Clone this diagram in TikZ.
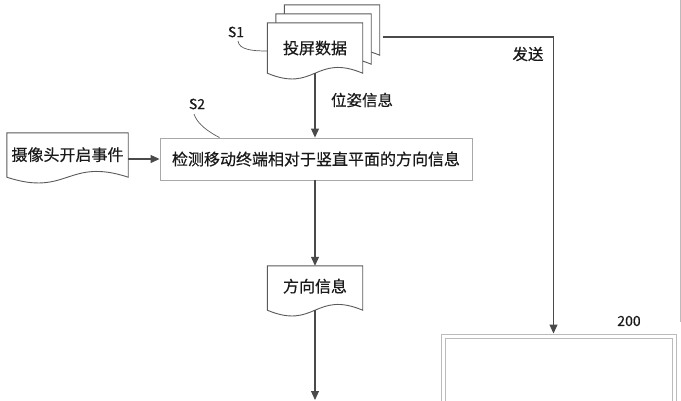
\documentclass[tikz,border=0pt]{standalone}
\usepackage{fontspec}
\setmainfont{Noto Sans CJK SC}[FakeBold=0.5]
\usetikzlibrary{arrows.meta,calc}
\pgfdeclarelayer{bg}
\pgfsetlayers{bg,main}
\definecolor{arr}{HTML}{4A4A4A}
\definecolor{docc}{HTML}{5A5A5A}
\definecolor{boxc}{HTML}{A8A8A8}
\definecolor{outc}{HTML}{BBBBBB}
\definecolor{txt}{HTML}{1A1A1A}
\newcommand\docwave[2]{%
  \filldraw[docline] (#1.south west) -- (#1.north west) -- (#1.north east) -- (#1.south east)
    .. controls ($(#1.south)+(0,-#2)$) and ($(#1.south)+(0,#2)$) .. (#1.south west) -- cycle;}
\begin{document}
\begin{tikzpicture}[x=1pt,y=-1pt,
  every node/.style={text=txt},
  docline/.style={draw=docc,fill=white,line width=0.9pt},
  docnode/.style={inner sep=0pt,font=\fontsize{16}{18}\selectfont},
  procbox/.style={draw=boxc,line width=0.9pt,inner sep=0pt,font=\fontsize{16}{18}\selectfont},
  outbox/.style={draw=outc,line width=1pt,inner sep=0pt},
  flow/.style={draw=arr,line width=1.1pt,-{Triangle[length=9pt,width=8pt]}},
  lbl/.style={font=\fontsize{15.5}{18}\selectfont,inner sep=0pt},
  tag/.style={font=\fontsize{14}{16}\selectfont,inner sep=0pt},
  leader/.style={draw=docc,line width=0.7pt}]
\useasboundingbox (0,0) rectangle (681,400);

% document stack S1
\node[docnode,minimum width=95,minimum height=50] (s1c) at (332,30) {};
\node[docnode,minimum width=95,minimum height=50] (s1b) at (323.5,39) {};
\node[docnode,minimum width=95,minimum height=50] (s1a) at (315,48) {投屏数据};
\begin{pgfonlayer}{bg}
\docwave{s1c}{20}
\docwave{s1b}{20}
\docwave{s1a}{20}
\end{pgfonlayer}

% camera event document
\node[docnode,minimum width=121,minimum height=44] (cam) at (67.5,155) {\raisebox{2pt}{摄像头开启事件}};
\begin{pgfonlayer}{bg}
\docwave{cam}{20}
\end{pgfonlayer}

% process box S2
\node[procbox,minimum width=312,minimum height=42] (det) at (316,159) {检测移动终端相对于竖直平面的方向信息};

% direction info document
\node[docnode,minimum width=95,minimum height=44] (dir) at (315,288) {\raisebox{5pt}{方向信息}};
\begin{pgfonlayer}{bg}
\docwave{dir}{20}
\end{pgfonlayer}

% box 200
\node[outbox,minimum width=235,minimum height=100] (b200) at (558.5,384) {};
\draw[outbox] ([shift={(4.5,5)}]b200.north west) rectangle ([shift={(-4.5,-5)}]b200.south east);
\node[tag] (t200) at (629,321) {200};

% labels
\node[tag] (ts1) at (236,32) {S1};
\node[tag] (ts2) at (197,104) {S2};
\node[lbl] (pose) at (362,100) {位姿信息};
\node[lbl] (send) at (528,54) {发送};

\draw[leader] ([shift={(2,9)}]ts1.center) .. controls +(1,9) and +(-14,0) .. (s1a.west |- 0,51);
\draw[leader] ([shift={(-3,10)}]ts2.center) .. controls +(3,10) and +(-10,-5) .. ([xshift=60pt]det.north west);

% connectors
\coordinate (bottomend) at (315,400);
\draw[flow] (s1a.south) -- (det.north -| s1a.south);
\draw[flow] (cam.east |- det.west) -- (det.west);
\draw[flow] (det.south -| dir.north) -- (dir.north);
\draw[flow] (dir.south) -- (bottomend);
\draw[flow] ([shift={(3,7)}]s1c.east) -| ([xshift=-5pt]b200.north);

% right border line
\draw[draw=outc,line width=0.8pt] (680,0) -- (680,322);
\end{tikzpicture}
\end{document}
